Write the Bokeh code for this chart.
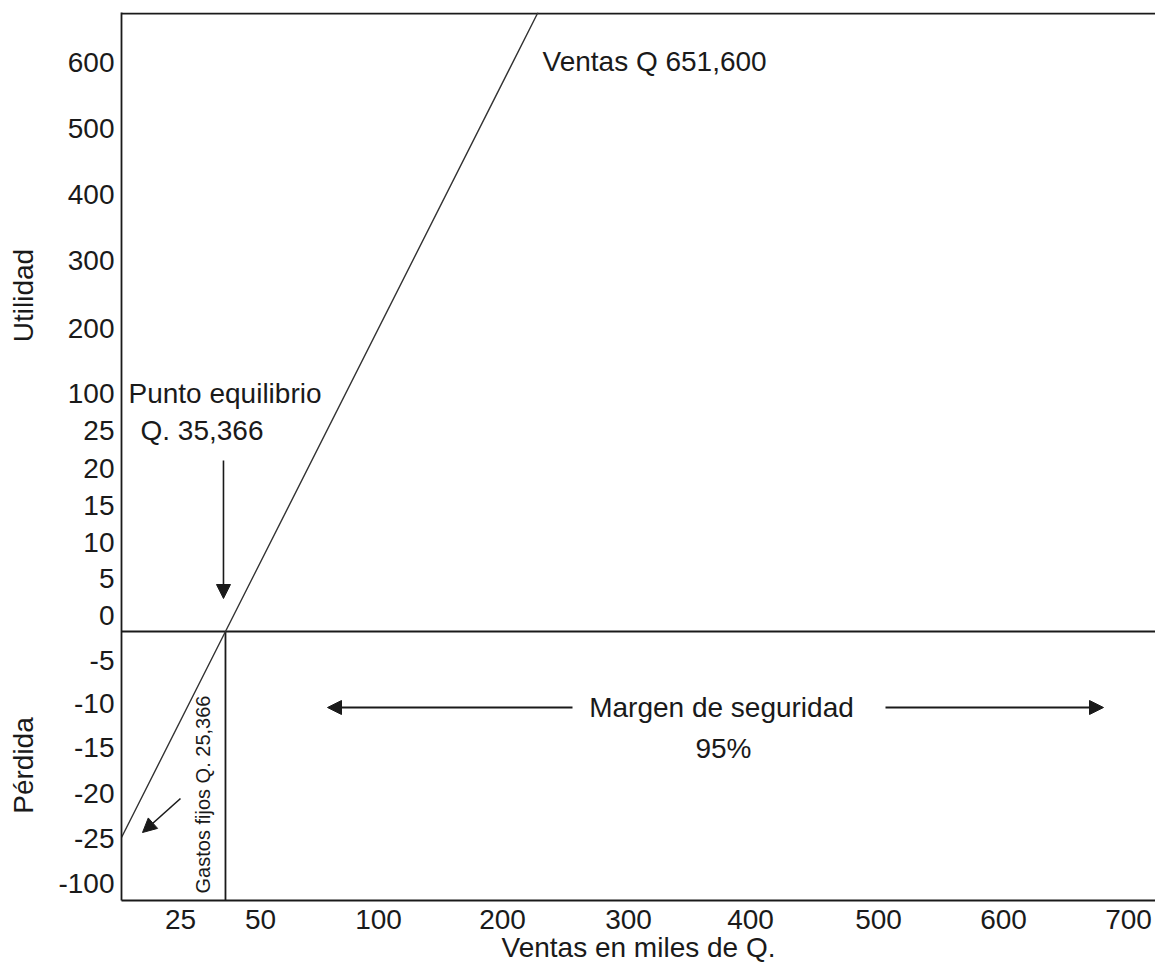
import numpy as np
from bokeh.plotting import figure
from bokeh.layouts import row
from bokeh.models import Range1d, FixedTicker, Label, Arrow, NormalHead
from bokeh.core.properties import value
from bokeh.embed import file_html
from bokeh.resources import INLINE

# ---------------- data (miles de Q.) ----------------
x_tick_labels = ["25", "50", "100", "200", "300", "400", "500", "600", "700"]
y_tick_labels = ["600", "500", "400", "300", "200", "100", "25", "20", "15", "10",
                 "5", "0", "-5", "-10", "-15", "-20", "-25", "-100"]
fixed_costs = 25.366          # Gastos fijos
breakeven_sales = 35.366      # Punto de equilibrio
sales_total = 651.600         # Ventas
safety_margin_pct = 95        # Margen de seguridad

# ---------------- layout ----------------
SIDE_W = 50
W, H = 1105, 970
BL, BT, BR = 71, 12, 0
FW, FH = W - BL - BR, 888
BB = H - BT - FH
x_tick_pos = [59, 139, 257, 381, 507, 629, 757, 882, 1007]
y_tick_pos = [838, 772, 706, 640, 572, 507, 470, 432, 395, 358,
              322, 285, 240, 197, 153, 107, 62, 17]
ZERO_Y = 269          # position of the zero-profit line in the frame
X_UNIT = 2.94         # frame units per miles de Q. (low sales range)
Y_UNIT = 8.12         # frame units per miles de Q. (loss range)
FONT = "Liberation Sans"
INK = "#1a1a1a"

def sx(v):
    return v * X_UNIT

def sy(v):
    return ZERO_Y + v * Y_UNIT

p = figure(width=W, height=H, x_range=Range1d(0, FW), y_range=Range1d(0, FH),
           output_backend="svg", toolbar_location=None,
           min_border_left=BL, min_border_right=BR,
           min_border_top=BT, min_border_bottom=BB)
p.grid.visible = False
p.outline_line_color = None
p.background_fill_color = "white"
p.border_fill_color = "white"

for ax, pos, labs, stand in ((p.xaxis[0], x_tick_pos, x_tick_labels, 9),
                             (p.yaxis[0], y_tick_pos, y_tick_labels, 7)):
    ax.ticker = FixedTicker(ticks=pos)
    ax.major_label_overrides = {float(a): b for a, b in zip(pos, labs)}
    ax.major_tick_out = 0
    ax.major_tick_in = 0
    ax.minor_tick_out = 0
    ax.minor_tick_in = 0
    ax.axis_line_color = INK
    ax.axis_line_width = 1.8
    ax.major_label_text_font = FONT
    ax.major_label_text_font_size = "28px"
    ax.major_label_text_color = INK
    ax.major_label_standoff = stand

p.xaxis.axis_label = "Ventas en miles de Q."
p.xaxis.axis_label_text_font = FONT
p.xaxis.axis_label_text_font_size = "28px"
p.xaxis.axis_label_text_font_style = "normal"
p.xaxis.axis_label_text_color = INK
p.xaxis.axis_label_standoff = 0

# top border
p.segment(x0=[0], y0=[FH - 1], x1=[FW], y1=[FH - 1], line_color=INK, line_width=2)

# zero-profit line and break-even vertical
xb = sx(breakeven_sales)
p.segment(x0=[0], y0=[sy(0)], x1=[FW], y1=[sy(0)], line_color=INK, line_width=1.8)
p.segment(x0=[xb], y0=[0], x1=[xb], y1=[sy(0)], line_color=INK, line_width=1.8)

# sales line: from loss = fixed costs at zero sales, through break-even, to the top
x0, y0 = sx(0), sy(-fixed_costs)
slope = (sy(0) - y0) / (xb - x0)
x_top = xb + (FH - sy(0)) / slope
p.line([x0, xb, x_top], [y0, sy(0), FH], line_color="#333333", line_width=1.4)

# arrows
def arrow(xs, ys, xe, ye, lw=1.6):
    p.add_layout(Arrow(end=NormalHead(size=14, fill_color=INK, line_color=INK, line_width=1),
                       x_start=xs, y_start=ys, x_end=xe, y_end=ye,
                       line_color=INK, line_width=lw))

arrow(xb - 2, 440, xb - 2, 302)          # Punto equilibrio
arrow(59, 102, 21, 68)                   # Gastos fijos
arrow(451, 193, 206, 193, 2)             # Margen (izquierda)
arrow(764, 193, 982, 193, 2)             # Margen (derecha)

def label(x, y, text, size="28px", align="left", angle=0.0):
    p.add_layout(Label(x=x, y=y, text=text, text_font=FONT, text_font_size=size,
                       text_color=INK, text_align=align, text_baseline="middle",
                       angle=angle))

label(421, 839, "Ventas Q 651,600")
label(7, 507, "Punto equilibrio")
label(19, 470, "Q. 35,366")
label(600, 193, "Margen de seguridad", align="center")
label(602, 152, f"{safety_margin_pct}%", align="center")
label(81, 106, "Gastos fijos Q. 25,366", size="20px", align="center", angle=np.pi / 2)

# side panel carrying the two vertical axis titles (its frame aligns with the main frame)
side = figure(width=SIDE_W, height=H, x_range=Range1d(0, SIDE_W), y_range=Range1d(0, FH),
              output_backend="svg", toolbar_location=None,
              x_axis_location=None, y_axis_location=None,
              min_border_left=0, min_border_right=0, min_border_top=0, min_border_bottom=0)
side.grid.visible = False
side.outline_line_color = None
side.text(x=[23, 23], y=[605, 135], text=["Utilidad", "Pérdida"],
          angle=np.pi / 2, text_align="center", text_baseline="middle",
          text_font=value(FONT), text_font_size="28px", text_color=INK)

layout = row(side, p, spacing=0)
open("out.html", "w").write(file_html(layout, INLINE))
